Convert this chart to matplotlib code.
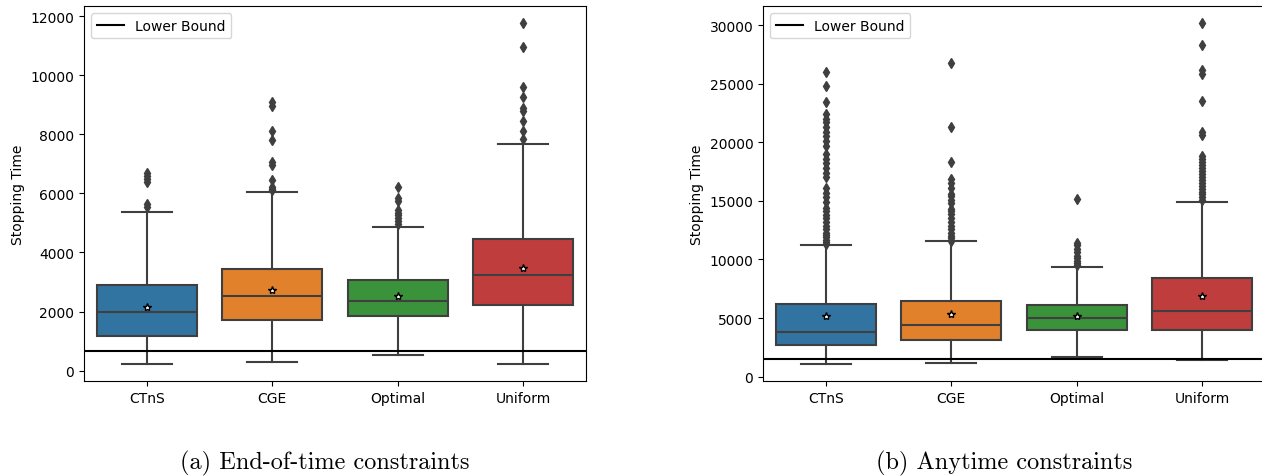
import matplotlib
matplotlib.use("Agg")
from matplotlib import pyplot as plt

# Categories and box statistics
methods = ["CTnS", "CGE", "Optimal", "Uniform"]
colors = ["#3274a1", "#e1812c", "#3a923a", "#c03d3e"]

# (a) End-of-time constraints
eot_q1 = [1166, 1721, 1834, 2208]
eot_med = [1992, 2513, 2366, 3226]
eot_q3 = [2909, 3453, 3057, 4438]
eot_low = [215, 283, 521, 215]
eot_high = [5366, 6034, 4868, 7664]
eot_mean = [2140, 2728, 2525, 3475]
eot_fliers = [
    [5550, 5650, 6400, 6500, 6600, 6700],
    [6100, 6150, 6200, 6450, 6950, 7050, 7800, 8100, 8950, 9100],
    [4950, 5050, 5150, 5250, 5350, 5450, 5750, 5850, 6200],
    [7850, 8100, 8450, 8800, 8900, 9250, 9600, 10950, 11750],
]
eot_bound = 657

# (b) Anytime constraints
any_q1 = [2735, 3162, 3960, 3989]
any_med = [3846, 4444, 5014, 5613]
any_q3 = [6211, 6496, 6154, 8405]
any_low = [1054, 1168, 1709, 1420]
any_high = [11197, 11538, 9316, 14906]
any_mean = [5214, 5385, 5214, 6895]
any_fliers = [
    [11300, 11500, 11700, 11900, 12100, 12300, 12600, 12900, 13200, 13500,
     13800, 14100, 14400, 14900, 15300, 15700, 16100, 17000, 17400, 17800,
     18200, 18600, 19000, 19700, 20100, 20500, 20900, 21300, 21700, 22000,
     22400, 23480, 24770, 26000],
    [11600, 11800, 12000, 12300, 12600, 12900, 13200, 13500, 13900, 14100,
     14300, 14800, 15100, 15400, 15600, 16100, 16500, 16900, 18320, 21340,
     26810],
    [9500, 9700, 9900, 10100, 10300, 10600, 10900, 11200, 11400, 15180],
    [15050, 15300, 15550, 15800, 16050, 16300, 16550, 16800, 17050, 17300,
     17550, 17800, 18050, 18300, 18550, 18850, 20600, 20900, 23570, 25800,
     26200, 28290, 30150],
]
any_bound = 1480

gray = "#3f3f3f"


def draw(ax, q1, med, q3, low, high, mean, fliers, bound):
    stats = []
    for i, name in enumerate(methods):
        stats.append(dict(label=name, q1=q1[i], med=med[i], q3=q3[i],
                          whislo=low[i], whishi=high[i], mean=mean[i],
                          fliers=fliers[i]))
    bp = ax.bxp(stats, positions=range(len(methods)), widths=0.8,
                patch_artist=True, showmeans=True,
                boxprops=dict(edgecolor=gray, linewidth=1.5),
                medianprops=dict(color=gray, linewidth=1.5),
                whiskerprops=dict(color=gray, linewidth=1.5),
                capprops=dict(color=gray, linewidth=1.5),
                flierprops=dict(marker="d", markersize=5, markerfacecolor=gray,
                                markeredgecolor=gray),
                meanprops=dict(marker="*", markersize=6, markerfacecolor="white",
                               markeredgecolor="black"))
    for patch, c in zip(bp["boxes"], colors):
        patch.set_facecolor(c)
    ax.axhline(bound, color="black", linewidth=1.5, label="Lower Bound")
    ax.set_xlim(-0.5, len(methods) - 0.5)
    ax.set_ylabel("Stopping Time", fontsize=10)
    ax.tick_params(labelsize=10)
    ax.legend(loc="upper left", fontsize=10)


fig = plt.figure(figsize=(12.62, 4.77), dpi=100)
ax1 = fig.add_axes([84 / 1262, 0.1985, 502 / 1262, 0.786])
ax2 = fig.add_axes([763 / 1262, 0.1985, 502 / 1262, 0.786])

draw(ax1, eot_q1, eot_med, eot_q3, eot_low, eot_high, eot_mean, eot_fliers, eot_bound)
draw(ax2, any_q1, any_med, any_q3, any_low, any_high, any_mean, any_fliers, any_bound)

# subfigure captions
fig.text(325 / 1262, 1 - 463 / 477, "(a) End-of-time constraints",
         family="cmr10", fontsize=17.5, ha="center", va="center")
fig.text(1004 / 1262, 1 - 463 / 477, "(b) Anytime constraints",
         family="cmr10", fontsize=17.5, ha="center", va="center")

fig.savefig("out.png", dpi=100)
